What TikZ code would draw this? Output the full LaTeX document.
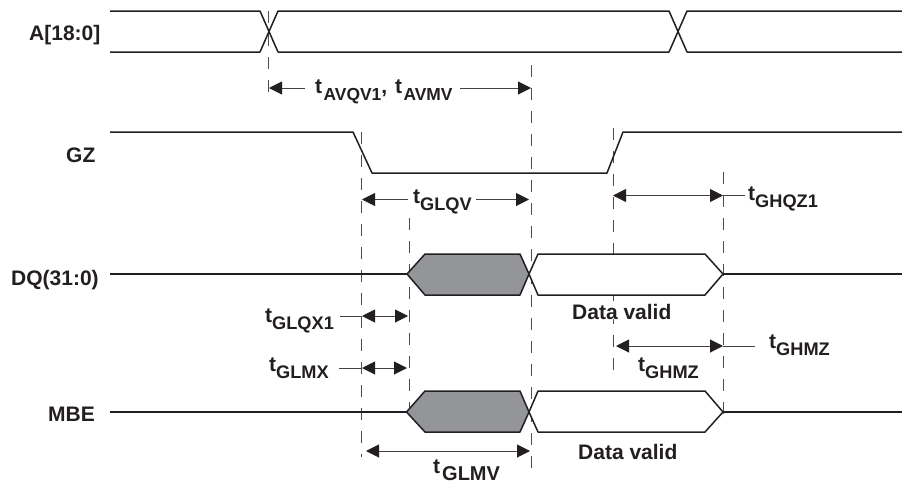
\documentclass[tikz,border=0pt]{standalone}
\usepackage{fontspec}
\setmainfont{Liberation Sans}
\usetikzlibrary{arrows.meta}
\definecolor{ink}{HTML}{231F20}
\definecolor{hatch}{HTML}{939598}
\newcommand{\tsymx}[3]{t\hspace{#2}\raisebox{-7pt}{\fontsize{#1}{#1}\selectfont\bfseries #3}}
\newcommand{\tsym}[1]{\tsymx{18.2}{0pt}{#1}}
\tikzset{
  x=1pt,y=-1pt,
  sigline/.style={draw=ink,line width=1.5pt,line join=round},
  guide/.style={draw=ink!80,line width=1pt,dash pattern=on 12pt off 11pt},
  dimline/.style={draw=ink!85,line width=1pt},
  tip/.style={-{Triangle[length=13pt,width=13pt,color=ink]}},
  bitip/.style={{Triangle[length=13pt,width=13pt,color=ink]}-{Triangle[length=13pt,width=13pt,color=ink]}},
  lbl/.style={inner sep=0pt,text=ink,font=\fontsize{21}{21}\selectfont\bfseries},
  baselbl/.style={lbl,anchor=base west},
}
\begin{document}
\begin{tikzpicture}
\useasboundingbox[fill=white] (0,0) rectangle (902,482);
% guides
\draw[guide] (268.5,11) -- (268.5,97);
\draw[guide] (531,65) -- (531,474);
\draw[guide] (361.5,132) -- (361.5,457);
\draw[guide] (409,218) -- (409,408);
\draw[guide] (613,128) -- (613,372);
\draw[guide] (723.5,172) -- (723.5,419);
% A
\draw[sigline] (110,11) -- (260,11) -- (278,52) -- (669,52) -- (687,11) -- (902,11);
\draw[sigline] (110,52) -- (260,52) -- (278,11) -- (669,11) -- (687,52) -- (902,52);
% GZ
\draw[sigline] (110,132) -- (353,132) -- (372,173) -- (607,173) -- (623,132) -- (902,132);
% DQ
\draw[sigline] (110,274) -- (407,274);
\draw[sigline,fill=hatch] (407,274) -- (425,254) -- (520,254) -- (529,274) -- (520,295) -- (425,295) -- cycle;
\draw[sigline,fill=white] (529,274) -- (538,254) -- (705,254) -- (723,274) -- (705,295) -- (538,295) -- cycle;
\draw[sigline,line width=1.2pt] (723,274) -- (902,274);
% MBE
\draw[sigline] (110,412) -- (406.5,412);
\draw[sigline,fill=hatch] (406.5,412) -- (425,391) -- (520,391) -- (529,412) -- (520,432) -- (425,432) -- cycle;
\draw[sigline,fill=white] (529,412) -- (538,391) -- (705,391) -- (723,412) -- (705,432) -- (538,432) -- cycle;
\draw[sigline,line width=1.2pt] (723,412) -- (902,412);
% dimension arrows
\draw[dimline,tip] (305,88) -- (269,88);
\draw[dimline,tip] (460,88) -- (531,88);
\draw[dimline,tip] (408,199.5) -- (362,199.5);
\draw[dimline,tip] (476,199.5) -- (529,199.5);
\draw[dimline,bitip] (613,195.5) -- (723,195.5);
\draw[dimline] (723,195.5) -- (745,195.5);
\draw[dimline,bitip] (362,316) -- (408,316);
\draw[dimline] (340,316) -- (362,316);
\draw[dimline,bitip] (362,368) -- (407,368);
\draw[dimline] (339,368) -- (362,368);
\draw[dimline,bitip] (616,346) -- (723,346);
\draw[dimline] (723,346) -- (755,346);
\draw[dimline,bitip] (366,451) -- (530,451);
% signal names
\node[baselbl] (nA) at (29,40) {A[18:0]};
\node[baselbl] (nG) at (66,162) {GZ};
\node[baselbl] (nD) at (11,285) {DQ(31:0)};
\node[baselbl] (nM) at (48,421) {MBE};
% timing labels
\node[baselbl] (tA) at (315,93.5) {\tsymx{17.4}{1.5pt}{AVQV1},\hspace{2pt} \tsymx{17.4}{1.5pt}{AVMV}};
\node[baselbl] (tB) at (413,203) {\tsym{GLQV}};
\node[baselbl] (tC) at (748,200) {\tsym{GHQZ1}};
\node[baselbl] (tD) at (265,322) {\tsym{GLQX1}};
\node[baselbl] (tE) at (269,371) {\tsym{GLMX}};
\node[baselbl] (tF) at (769,348) {\tsym{GHMZ}};
\node[baselbl] (tG) at (638,371) {\tsym{GHMZ}};
\node[baselbl] (tH) at (433,473.5) {\tsymx{20}{2pt}{GLMV}};
\node[baselbl,fill=white] (d1) at (572,319) {Data valid};
\node[baselbl] (d2) at (578,459) {Data valid};
\end{tikzpicture}
\end{document}
